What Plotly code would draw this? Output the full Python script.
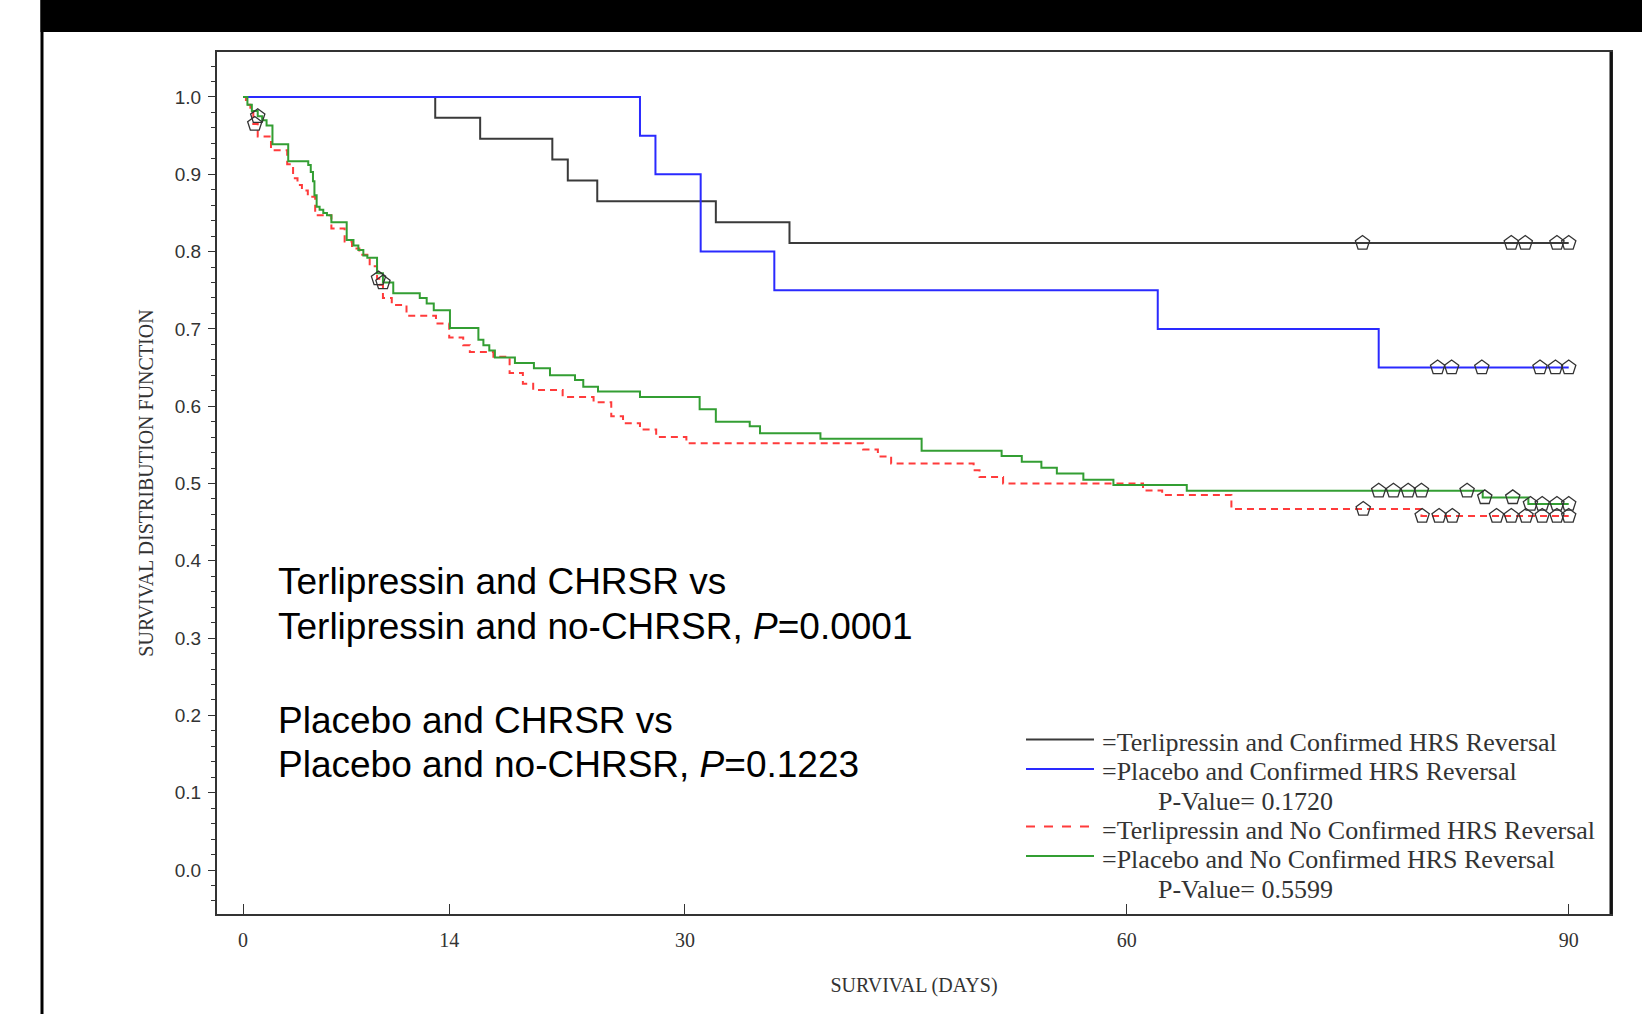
import bisect
import plotly.graph_objects as go

# ---------------- data ----------------
# Terlipressin and Confirmed HRS Reversal
terli_rev_days = [0, 13.05, 16.1, 21.0, 22.05, 24.05, 32.1, 37.1, 90]
terli_rev_surv = [1.0, 0.973, 0.946, 0.919, 0.892, 0.865, 0.838, 0.811, 0.811]
terli_rev_censored = [76.0, 86.1, 87.05, 89.2, 90.0]

# Placebo and Confirmed HRS Reversal
plac_rev_days = [0, 26.95, 28.0, 31.07, 36.07, 62.1, 77.1, 90]
plac_rev_surv = [1.0, 0.95, 0.90, 0.80, 0.75, 0.70, 0.65, 0.65]
plac_rev_censored = [81.1, 82.05, 84.1, 88.05, 89.1, 90.0]

# Terlipressin and No Confirmed HRS Reversal
terli_norev_days = [0, 0.2, 0.5, 0.7, 1.0, 1.9, 3.0, 3.4, 3.7, 4.0, 4.4, 4.9, 6.0,
                    6.9, 7.4, 7.9, 8.6, 9.1, 9.25, 9.5, 10.1, 11.1, 13.1, 14.0,
                    14.95, 15.4, 17.0, 18.1, 19.0, 19.7, 21.7, 23.8, 25.0, 25.8,
                    26.95, 28.05, 30.1, 42.1, 43.1, 44.0, 49.6, 50.0, 51.6, 61.1,
                    62.4, 67.1, 80.0, 90]
terli_norev_surv = [1.0, 0.99, 0.98, 0.965, 0.949, 0.931, 0.913, 0.895, 0.886, 0.879,
                    0.871, 0.847, 0.830, 0.813, 0.804, 0.796, 0.781, 0.765, 0.757,
                    0.740, 0.731, 0.717, 0.707, 0.689, 0.679, 0.670, 0.664, 0.643,
                    0.629, 0.621, 0.612, 0.605, 0.587, 0.578, 0.570, 0.560, 0.552,
                    0.544, 0.535, 0.526, 0.517, 0.5085, 0.500, 0.491, 0.485, 0.467,
                    0.458, 0.458]
terli_norev_censored = [0.8, 9.2, 76.05, 80.05, 81.2, 82.1, 85.1, 86.1, 87.1, 88.2,
                        89.2, 90.0]

# Placebo and No Confirmed HRS Reversal
plac_norev_days = [0, 0.3, 0.6, 1.0, 1.3, 1.6, 2.0, 3.07, 4.43, 4.6, 4.75, 4.85, 5.0,
                   5.2, 5.45, 5.7, 6.0, 7.04, 7.5, 7.83, 8.17, 8.44, 9.1, 9.5, 10.2,
                   12.0, 12.47, 12.95, 14.05, 15.98, 16.32, 16.72, 17.1, 18.46, 19.75,
                   20.84, 22.54, 23.1, 24.1, 26.95, 31.0, 32.1, 34.4, 35.1, 39.2,
                   46.07, 51.5, 52.87, 54.2, 55.25, 57.05, 59.09, 64.07, 84.16, 87.26,
                   90]
plac_norev_surv = [1.0, 0.99, 0.982, 0.975, 0.97, 0.963, 0.939, 0.917, 0.912, 0.903,
                   0.891, 0.873, 0.858, 0.854, 0.85, 0.847, 0.838, 0.815, 0.808,
                   0.802, 0.795, 0.792, 0.772, 0.76, 0.746, 0.740, 0.733, 0.724,
                   0.701, 0.686, 0.679, 0.672, 0.663, 0.656, 0.649, 0.640, 0.634,
                   0.625, 0.619, 0.612, 0.596, 0.580, 0.574, 0.565, 0.558, 0.5425,
                   0.5355, 0.528, 0.5205, 0.513, 0.505, 0.498, 0.4906, 0.482, 0.4735,
                   0.4735]
plac_norev_censored = [1.0, 9.5, 77.1, 78.1, 79.1, 80.0, 83.1, 84.3, 86.2, 87.4, 88.2,
                       89.2, 90.0]

legend_names = ["=Terlipressin and Confirmed HRS Reversal",
                "=Placebo and Confirmed HRS Reversal",
                "=Terlipressin and No Confirmed HRS Reversal",
                "=Placebo and No Confirmed HRS Reversal"]
p_value_labels = ["P-Value= 0.1720", "P-Value= 0.5599"]

comparison_lines = ["Terlipressin and CHRSR vs",
                    "Terlipressin and no-CHRSR, <i>P</i>=0.0001",
                    "Placebo and CHRSR vs",
                    "Placebo and no-CHRSR, <i>P</i>=0.1223"]

x_tick_days = [0, 14, 30, 60, 90]
y_tick_values = [0.0, 0.1, 0.2, 0.3, 0.4, 0.5, 0.6, 0.7, 0.8, 0.9, 1.0]
x_axis_title = "SURVIVAL (DAYS)"
y_axis_title = "SURVIVAL DISTRIBUTION FUNCTION"

# ---------------- styling / layout ----------------
groups = [
    (terli_rev_days, terli_rev_surv, terli_rev_censored, "#3a3a3a", "solid"),
    (plac_rev_days, plac_rev_surv, plac_rev_censored, "#2a2aff", "solid"),
    (terli_norev_days, terli_norev_surv, terli_norev_censored, "#ff3b3b", "7px,5px"),
    (plac_norev_days, plac_norev_surv, plac_norev_censored, "#339e33", "solid"),
]


def surv_at(days, surv, t):
    i = bisect.bisect_right(days, t) - 1
    return surv[max(i, 0)]


SERIF = "Liberation Serif, Times New Roman, serif"
SANS = "Liberation Sans, Arial, sans-serif"

W, H = 1642, 1014
# plot area in page px
PL, PR, PT, PB = 217, 1611, 52, 914


def px(X):
    return (X - PL) / (PR - PL)


def py(Y):
    return (PB - Y) / (PB - PT)


fig = go.Figure()
for days, surv, cens, color, dash in groups:
    fig.add_trace(go.Scatter(
        x=days, y=surv, mode="lines",
        line=dict(shape="hv", color=color, width=2, dash=dash),
        showlegend=False, hoverinfo="skip"))

for days, surv, cens, color, dash in groups:
    fig.add_trace(go.Scatter(
        x=cens, y=[surv_at(days, surv, c) for c in cens], mode="markers",
        marker=dict(symbol="pentagon-open", size=15, color="#333333",
                    line=dict(width=1.3, color="#333333")),
        showlegend=False, hoverinfo="skip"))

shapes = []
annotations = []

# black band and left rule of the page frame
shapes.append(dict(type="rect", xref="paper", yref="paper",
                   x0=px(40.5), x1=px(1660), y0=py(32), y1=py(-10),
                   fillcolor="black", line=dict(width=0), layer="above"))
shapes.append(dict(type="line", xref="paper", yref="paper",
                   x0=px(42), x1=px(42), y0=py(1030), y1=py(-10),
                   line=dict(color="black", width=3), layer="above"))
# thicker right border of the plot box
shapes.append(dict(type="line", xref="paper", yref="paper",
                   x0=1, x1=1, y0=0, y1=1,
                   line=dict(color="#111111", width=3), layer="above"))

# comparison text block
for txt, Y in zip(comparison_lines, [581.5, 626, 720, 764]):
    annotations.append(dict(text=txt, xref="paper", yref="paper",
                            x=px(276), y=py(Y), xanchor="left", yanchor="middle",
                            showarrow=False,
                            font=dict(family=SANS, size=37, color="black")))

# custom legend
legend_rows = [
    (legend_names[0], 742.6, 0),
    (legend_names[1], 771.9, 1),
    (p_value_labels[0], 801.3, None),
    (legend_names[2], 830.6, 2),
    (legend_names[3], 859.9, 3),
    (p_value_labels[1], 889.3, None),
]
line_y = {0: 739.5, 1: 769.0, 2: 826.5, 3: 856.0}
for txt, Y, gi in legend_rows:
    xstart = 1100 if gi is not None else 1156
    annotations.append(dict(text=txt, xref="paper", yref="paper",
                            x=px(xstart), y=py(Y), xanchor="left", yanchor="middle",
                            showarrow=False,
                            font=dict(family=SERIF, size=26, color="#333333")))
    if gi is not None:
        color, dash = groups[gi][3], groups[gi][4]
        shapes.append(dict(type="line", xref="paper", yref="paper",
                           x0=px(1026), x1=px(1094), y0=py(line_y[gi]), y1=py(line_y[gi]),
                           line=dict(color=color, width=2,
                                     dash="dash" if dash != "solid" else "solid")))

fig.update_layout(
    width=W, height=H,
    margin=dict(l=PL, r=W - PR, t=PT, b=H - PB),
    paper_bgcolor="white", plot_bgcolor="white",
    showlegend=False,
    shapes=shapes, annotations=annotations,
    xaxis=dict(
        range=[-1.765, 92.87], tickmode="array", tickvals=x_tick_days,
        ticks="inside", ticklen=10, tickwidth=1.2, tickcolor="#333333",
        ticklabelstandoff=7,
        tickfont=dict(family=SERIF, size=20, color="#333333"),
        showgrid=False, zeroline=False,
        showline=True, linecolor="#333333", linewidth=2, mirror=True,
        title=dict(text=x_axis_title, standoff=28,
                   font=dict(family=SERIF, size=20, color="#333333")),
    ),
    yaxis=dict(
        range=[-0.0569, 1.0582], tickmode="array", tickvals=y_tick_values,
        tickformat=".1f",
        ticks="outside", ticklen=7, tickwidth=1.2, tickcolor="#333333",
        ticklabelstandoff=3,
        minor=dict(dtick=0.02, ticks="outside", ticklen=4, tickcolor="#333333",
                   tickwidth=1, showgrid=False),
        tickfont=dict(family=SANS, size=19, color="#333333"),
        showgrid=False, zeroline=False,
        showline=True, linecolor="#333333", linewidth=2, mirror=True,
        title=dict(text=y_axis_title, standoff=16,
                   font=dict(family=SERIF, size=20, color="#333333")),
    ),
)

fig.write_html(
    "out.html",
    config={"displayModeBar": False},
    post_script="document.body.style.margin='0px';"
                "document.documentElement.style.overflow='hidden';",
)
